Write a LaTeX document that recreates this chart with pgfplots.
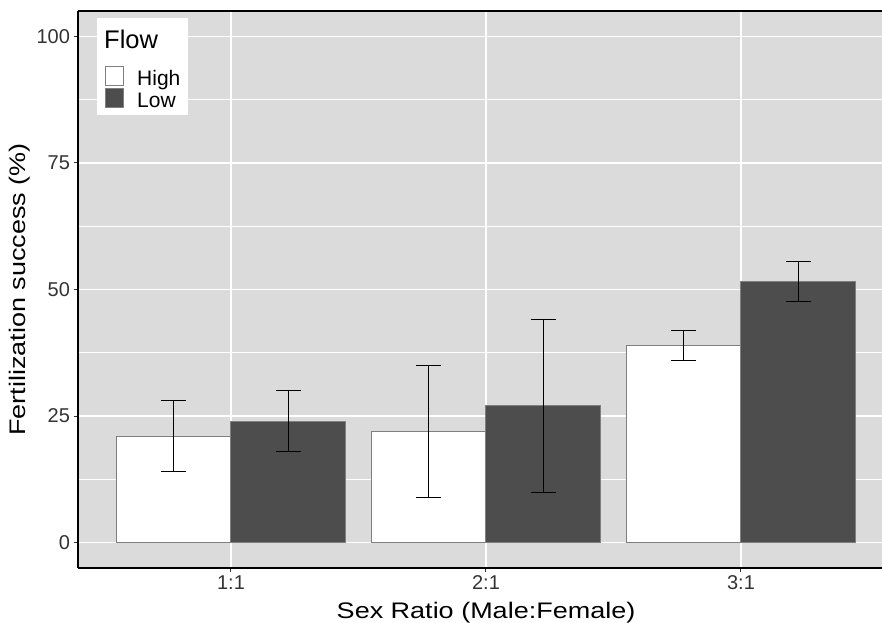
\documentclass[border=0pt]{standalone}
\usepackage{fontspec}
\setmainfont{Liberation Sans}
\newfontfamily\titlefont[FakeStretch=1.2]{Liberation Sans}
\usepackage{pgfplots}
\pgfplotsset{compat=1.18}
\definecolor{panel}{HTML}{DBDBDB}
\definecolor{darkbar}{HTML}{4D4D4D}
\definecolor{barline}{HTML}{7F7F7F}
\definecolor{ticktext}{HTML}{333333}
% x positions: category 1,2,3 with dodge offsets of 0.225
\pgfplotstableread{
x y err
0.775 21 7
1.775 22 13
2.775 39 3
}\highflow
\pgfplotstableread{
x y err
1.225 24 6
2.225 27 17
3.225 51.6 4
}\lowflow
\begin{document}
\begin{tikzpicture}
\useasboundingbox (0bp,0bp) rectangle (882bp,623bp);
\begin{axis}[
  at={(78bp,55bp)}, anchor=south west,
  scale only axis, width=804bp, height=557bp,
  xmin=0.4, xmax=3.553, ymin=-5, ymax=105,
  clip=false,
  axis background/.style={fill=panel},
  axis x line*=bottom, axis y line*=left,
  axis line style={black, line width=1.6bp},
  xtick={1,2,3}, xticklabels={1:1,2:1,3:1},
  ytick={0,25,50,75,100}, minor ytick={12.5,37.5,62.5,87.5},
  xmajorgrids, ymajorgrids, yminorgrids,
  major grid style={white, line width=1.4bp},
  minor grid style={white, line width=0.7bp},
  tick align=outside, major tick length=4.5bp, minor tick length=0pt,
  tick style={ticktext, line width=1bp},
  /pgf/number format/assume math mode=true,
  tick label style={font=\fontsize{20bp}{23bp}\selectfont, text=ticktext},
  every axis x label/.style={at={(axis description cs:0.5075,0)}, anchor=base, yshift=-50bp, font=\titlefont\fontsize{22.5bp}{27bp}\selectfont},
  every axis y label/.style={at={(axis description cs:-0.0728,0.5)}, anchor=center, rotate=90, font=\titlefont\fontsize{22.5bp}{27bp}\selectfont},
  xlabel={Sex Ratio (Male:Female)},
  ylabel={Fertilization success (\%)},
  legend style={at={(axis description cs:0.0236,0.987)}, anchor=north west, fill=white, draw=none,
    inner xsep=8bp, inner ysep=4.5bp, row sep=-1.8bp, column sep=13bp,
    font=\fontsize{21bp}{25bp}\selectfont,
    cells={anchor=base west},
    nodes={inner sep=0pt, text height=18bp, text depth=3.7bp}},
  legend image code/.code={\draw[#1, draw=barline, line width=1bp] (0bp,0bp) rectangle (18bp,19bp);},
]
\addlegendimage{empty legend}
\addlegendentry[text height=26bp, text depth=19bp, font=\fontsize{25.5bp}{30bp}\selectfont]{\hspace{-33bp}Flow}
\addplot[ybar, bar width=0.45, bar shift=0, fill=white, draw=barline, line width=1bp]
  table[x=x, y=y] {\highflow};
\addlegendentry{High}
\addplot[ybar, bar width=0.45, bar shift=0, fill=darkbar, draw=barline, line width=1bp]
  table[x=x, y=y] {\lowflow};
\addlegendentry{Low}
\addplot[forget plot, draw=none, mark=none,
  error bars/.cd, y dir=both, y explicit, error mark=|,
  error bar style={draw=black, line width=1bp},
  error mark options={draw=black, line width=1bp, mark size=12.5bp}]
  table[x=x, y=y, y error=err] {\highflow};
\addplot[forget plot, draw=none, mark=none,
  error bars/.cd, y dir=both, y explicit, error mark=|,
  error bar style={draw=black, line width=1bp},
  error mark options={draw=black, line width=1bp, mark size=12.5bp}]
  table[x=x, y=y, y error=err] {\lowflow};
\draw[black, line width=1.6bp] (rel axis cs:0,1) -- (rel axis cs:1,1);
\end{axis}
\end{tikzpicture}
\end{document}
